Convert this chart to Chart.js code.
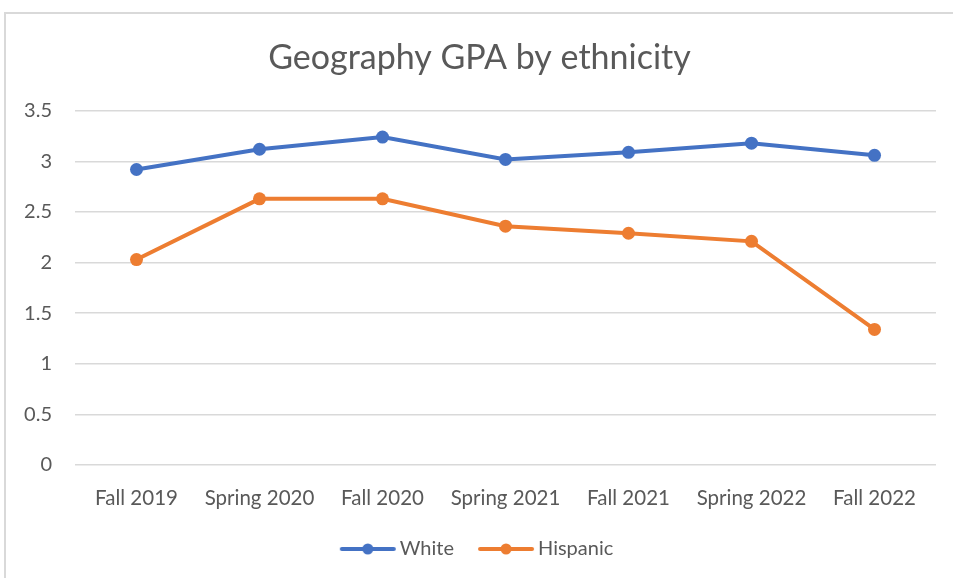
<!DOCTYPE html>
<html>
<head>
<meta charset="utf-8">
<script src="https://cdn.jsdelivr.net/npm/chart.js@4/dist/chart.umd.min.js"></script>
<style>
  html, body { margin: 0; padding: 0; background: #ffffff; }
  #wrap { position: relative; width: 953px; height: 578px; }
  #frame {
    position: absolute; left: 4px; top: 12px; right: -4px; bottom: -4px;
    border-left: 2px solid #d9d9d9; border-top: 2px solid #d9d9d9;
  }
  canvas { position: absolute; left: 0; top: 0; }
</style>
</head>
<body>
<div id="wrap">
  <div id="frame"></div>
  <canvas id="chart" width="953" height="578"></canvas>
</div>
<script>
// Terms on the horizontal axis
const terms = ['Fall 2019', 'Spring 2020', 'Fall 2020', 'Spring 2021', 'Fall 2021', 'Spring 2022', 'Fall 2022'];

// Average Geography GPA per term
const whiteGPA    = [2.92, 3.12, 3.24, 3.02, 3.09, 3.18, 3.06];
const hispanicGPA = [2.03, 2.63, 2.63, 2.36, 2.29, 2.21, 1.34];

// Vertical axis range
const yMin = 0;
const yMax = 3.5;
const yStep = 0.5;

const BLUE = '#4472C4';
const ORANGE = '#ED7D31';
const TEXT = '#595959';
const FONT = 'Lato, "Open Sans", sans-serif';

// Legend swatch: short line with a dot in the middle
function legendSwatch(color) {
  const c = document.createElement('canvas');
  c.width = 58; c.height = 14;
  const g = c.getContext('2d');
  g.strokeStyle = color;
  g.lineWidth = 4;
  g.lineCap = 'round';
  g.beginPath();
  g.moveTo(3, 7); g.lineTo(55, 7);
  g.stroke();
  g.fillStyle = color;
  g.beginPath();
  g.arc(29, 7, 5.5, 0, Math.PI * 2);
  g.fill();
  return c;
}
const swatches = [legendSwatch(BLUE), legendSwatch(ORANGE)];

new Chart(document.getElementById('chart'), {
  type: 'line',
  data: {
    labels: terms,
    datasets: [
      {
        label: 'White',
        data: whiteGPA,
        borderColor: BLUE,
        backgroundColor: BLUE,
        borderWidth: 4,
        pointRadius: 6.5,
        pointBorderWidth: 0,
        pointBackgroundColor: BLUE,
        tension: 0
      },
      {
        label: 'Hispanic',
        data: hispanicGPA,
        borderColor: ORANGE,
        backgroundColor: ORANGE,
        borderWidth: 4,
        pointRadius: 6.5,
        pointBorderWidth: 0,
        pointBackgroundColor: ORANGE,
        tension: 0
      }
    ]
  },
  options: {
    responsive: false,
    animation: false,
    layout: { padding: { left: 23, right: 17, top: 0, bottom: 9 } },
    plugins: {
      title: {
        display: true,
        text: 'Geography GPA by ethnicity',
        color: TEXT,
        font: { family: FONT, size: 34, weight: 'normal' },
        padding: { top: 38, bottom: 32 }
      },
      legend: {
        position: 'bottom',
        labels: {
          color: TEXT,
          font: { family: FONT, size: 20 },
          usePointStyle: true,
          pointStyleWidth: 44,
          boxHeight: 14,
          padding: 30,
          generateLabels(chart) {
            return chart.data.datasets.map((ds, i) => ({
              text: ds.label,
              fillStyle: ds.borderColor,
              strokeStyle: ds.borderColor,
              fontColor: TEXT,
              lineWidth: 0,
              pointStyle: swatches[i],
              hidden: !chart.isDatasetVisible(i),
              datasetIndex: i
            }));
          }
        }
      },
      tooltip: { enabled: false }
    },
    scales: {
      x: {
        offset: true,
        grid: { display: false, drawTicks: false, offset: true },
        border: { display: false },
        ticks: {
          color: TEXT,
          font: { family: FONT, size: 20.5 },
          padding: 21,
          maxRotation: 0,
          autoSkip: false
        },
        afterFit(scale) { scale.height = 44; }
      },
      y: {
        min: yMin,
        max: yMax,
        grid: { color: '#d9d9d9', lineWidth: 1.5, drawTicks: false },
        border: { display: false },
        ticks: {
          stepSize: yStep,
          color: TEXT,
          font: { family: FONT, size: 20 },
          padding: 23,
          callback: (v) => String(Number(v))
        },
        afterFit(scale) { scale.width = 52; }
      }
    }
  }
});
</script>
</body>
</html>
